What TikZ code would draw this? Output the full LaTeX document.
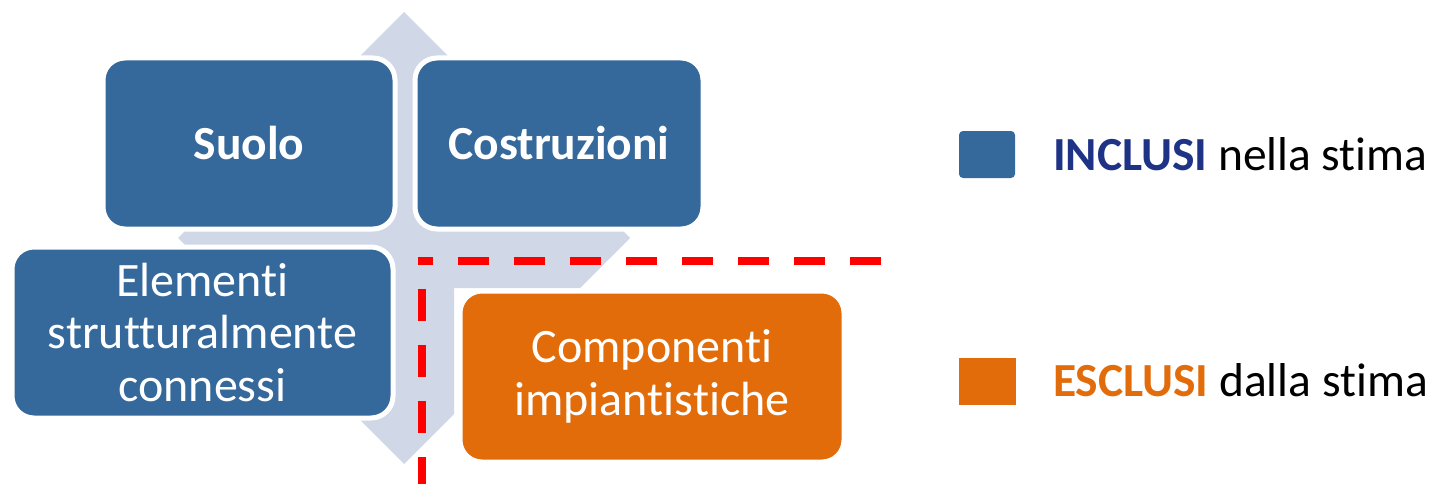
\documentclass[tikz,border=0pt]{standalone}
\usepackage{fontspec}
\setmainfont{Carlito}[Ligatures=NoCommon]
\definecolor{boxblue}{HTML}{35689B}
\definecolor{boxorange}{HTML}{E36C0A}
\definecolor{arrowgrey}{HTML}{D0D8E8}
\definecolor{inclblue}{HTML}{1F3386}
\begin{document}
\begin{tikzpicture}[x=1pt,y=-1pt,
  every node/.style={inner sep=0pt}
]

\tikzstyle{cell}=[draw=white,line width=5pt,rounded corners=22pt,
  minimum height=171pt,text=white,align=center,
  font=\fontsize{48}{52.5}\selectfont]
\tikzstyle{incell}=[cell,fill=boxblue]
\tikzstyle{excell}=[cell,fill=boxorange]
\tikzstyle{title}=[font=\fontsize{47.5}{56}\selectfont\bfseries]
\tikzstyle{legtext}=[anchor=base west,font=\fontsize{47.5}{56}\selectfont]
\tikzstyle{cut}=[draw=red,line width=8pt]

\useasboundingbox (0,0) rectangle (1431,484);

% background cross of arrows
\fill[arrowgrey] (404,12) -- (454,62) -- (454,188) -- (580,188) -- (630,238)
  -- (580,288) -- (454,288) -- (454,414) -- (404,464) -- (354,414)
  -- (354,288) -- (228,288) -- (178,238) -- (228,188) -- (354,188)
  -- (354,62) -- cycle;

% the four cells
\node [incell,title,minimum width=292pt] (suolo) at (249,143.5) {Suolo};
\node [incell,title,minimum width=288pt] (costr) at (559,143.5) {Costruzioni};
\node [incell,minimum width=381pt] (elem) at (202.5,332.5)
  {Elementi\\strutturalmente\\connessi};
\node [excell,minimum width=384pt] (comp) at (652,376.5)
  {Componenti\\impiantistiche};

% boundary of the estimate
\coordinate (cuttop) at (422,257);
\coordinate (cutbot) at (422,490);
\coordinate (cutleft) at (418,261);
\coordinate (cutright) at (881,261);
\draw [cut,dash pattern=on 32pt off 24pt,dash phase=24pt] (cuttop) -- (cutbot);
\draw [cut,dash pattern=on 31pt off 25pt,dash phase=16pt] (cutleft) -- (cutright);

% legend
\node [fill=boxblue,rounded corners=4pt,minimum width=56pt,minimum height=47pt]
  (incl) at (987,154.5) {};
\node [fill=boxorange,minimum width=57pt,minimum height=47pt]
  (escl) at (987.5,381.5) {};
\node [legtext] (incltext) at (1053,170)
  {\textbf{\textcolor{inclblue}{INCLUSI}} nella stima};
\node [legtext] (escltext) at (1053,396)
  {\textbf{\textcolor{boxorange}{ESCLUSI}} dalla stima};
\end{tikzpicture}
\end{document}
